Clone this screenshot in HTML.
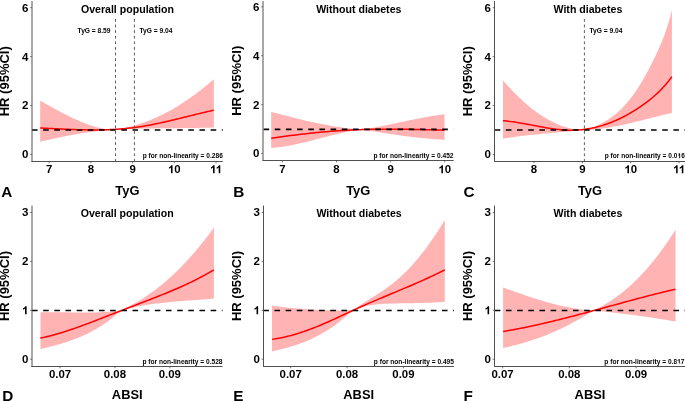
<!DOCTYPE html>
<html><head><meta charset="utf-8"><title>Restricted cubic spline plots</title>
<style>
html,body{margin:0;padding:0;background:#fff;}
body{width:685px;height:401px;overflow:hidden;}
svg{display:block;}
text{font-family:"Liberation Sans",sans-serif;font-weight:bold;fill:#000;}
svg{will-change:transform;}
</style></head>
<body>
<svg width="685" height="401" viewBox="0 0 685 401">
<rect width="685" height="401" fill="#fff"/>
<polygon points="40.20,100.60 42.02,101.64 43.83,102.67 45.65,103.70 47.46,104.73 49.28,105.75 51.09,106.77 52.91,107.78 54.72,108.78 56.54,109.78 58.35,110.76 60.17,111.74 61.98,112.70 63.80,113.65 65.62,114.58 67.43,115.50 69.25,116.40 71.06,117.28 72.88,118.15 74.69,118.99 76.51,119.81 78.32,120.61 80.14,121.39 81.95,122.14 83.77,122.87 85.58,123.57 87.40,124.24 89.22,124.88 91.03,125.49 92.85,126.07 94.66,126.62 96.48,127.13 98.29,127.61 100.11,128.06 101.92,128.46 103.74,128.83 105.55,129.16 107.37,129.45 109.18,129.69 111.00,129.90 113.64,129.62 116.27,129.28 118.91,128.88 121.54,128.43 124.18,127.93 126.82,127.37 129.45,126.76 132.09,126.10 134.72,125.38 137.36,124.60 139.99,123.78 142.63,122.90 145.27,121.97 147.90,120.98 150.54,119.94 153.17,118.85 155.81,117.70 158.45,116.50 161.08,115.25 163.72,113.94 166.35,112.59 168.99,111.18 171.63,109.71 174.26,108.20 176.90,106.63 179.53,105.01 182.17,103.33 184.81,101.61 187.44,99.83 190.08,98.00 192.71,96.12 195.35,94.19 197.98,92.20 200.62,90.16 203.26,88.07 205.89,85.93 208.53,83.74 211.16,81.50 213.80,79.20 213.80,127.50 211.16,127.59 208.53,127.67 205.89,127.74 203.26,127.80 200.62,127.86 197.98,127.91 195.35,127.96 192.71,128.00 190.08,128.03 187.44,128.07 184.81,128.10 182.17,128.12 179.53,128.15 176.90,128.17 174.26,128.19 171.63,128.21 168.99,128.24 166.35,128.26 163.72,128.28 161.08,128.31 158.45,128.34 155.81,128.37 153.17,128.40 150.54,128.44 147.90,128.48 145.27,128.53 142.63,128.59 139.99,128.65 137.36,128.71 134.72,128.79 132.09,128.87 129.45,128.96 126.82,129.07 124.18,129.18 121.54,129.30 118.91,129.43 116.27,129.57 113.64,129.73 111.00,129.89 109.18,130.01 107.37,130.15 105.55,130.30 103.74,130.46 101.92,130.63 100.11,130.82 98.29,131.02 96.48,131.22 94.66,131.44 92.85,131.67 91.03,131.91 89.22,132.16 87.40,132.42 85.58,132.69 83.77,132.97 81.95,133.26 80.14,133.56 78.32,133.86 76.51,134.18 74.69,134.50 72.88,134.83 71.06,135.16 69.25,135.51 67.43,135.85 65.62,136.21 63.80,136.57 61.98,136.94 60.17,137.31 58.35,137.69 56.54,138.07 54.72,138.46 52.91,138.85 51.09,139.25 49.28,139.65 47.46,140.05 45.65,140.46 43.83,140.87 42.02,141.28 40.20,141.69" fill="#FFB3B3"/>
<polyline points="40.20,127.98 41.95,128.06 43.71,128.15 45.46,128.24 47.21,128.33 48.97,128.41 50.72,128.50 52.47,128.59 54.23,128.68 55.98,128.76 57.74,128.85 59.49,128.93 61.24,129.02 63.00,129.10 64.75,129.18 66.50,129.25 68.26,129.33 70.01,129.40 71.76,129.46 73.52,129.53 75.27,129.59 77.02,129.65 78.78,129.70 80.53,129.74 82.28,129.79 84.04,129.83 85.79,129.86 87.55,129.88 89.30,129.90 91.05,129.92 92.81,129.93 94.56,129.93 96.31,129.92 98.07,129.91 99.82,129.89 101.57,129.86 103.33,129.83 105.08,129.78 106.83,129.73 108.59,129.66 110.34,129.59 112.09,129.51 113.85,129.42 115.60,129.32 117.36,129.21 119.11,129.09 120.86,128.96 122.62,128.81 124.37,128.66 126.12,128.49 127.88,128.31 129.63,128.12 131.38,127.92 133.14,127.71 134.89,127.48 136.64,127.24 138.40,126.98 140.15,126.72 141.91,126.44 143.66,126.15 145.41,125.85 147.17,125.54 148.92,125.22 150.67,124.89 152.43,124.55 154.18,124.20 155.93,123.84 157.69,123.48 159.44,123.11 161.19,122.73 162.95,122.34 164.70,121.95 166.45,121.55 168.21,121.15 169.96,120.74 171.72,120.33 173.47,119.91 175.22,119.49 176.98,119.07 178.73,118.64 180.48,118.21 182.24,117.78 183.99,117.35 185.74,116.92 187.50,116.48 189.25,116.05 191.00,115.62 192.76,115.18 194.51,114.75 196.26,114.32 198.02,113.89 199.77,113.47 201.53,113.04 203.28,112.62 205.03,112.21 206.79,111.79 208.54,111.39 210.29,110.98 212.05,110.58 213.80,110.19" fill="none" stroke="#FF0000" stroke-width="1.5" stroke-linejoin="round" stroke-linecap="butt"/>
<line x1="32.00" y1="129.95" x2="222.80" y2="129.95" stroke="#000" stroke-width="1.6" stroke-dasharray="5.6 5.565"/>
<line x1="115.5" y1="19" x2="115.5" y2="161.5" stroke="#484848" stroke-width="0.9" stroke-dasharray="2.8 2.8"/>
<text x="110.50" y="33.20" font-size="6.65" text-anchor="end">TyG = 8.59</text>
<line x1="134.4" y1="19" x2="134.4" y2="161.5" stroke="#484848" stroke-width="0.9" stroke-dasharray="2.8 2.8"/>
<text x="139.50" y="33.20" font-size="6.65" text-anchor="start">TyG = 9.04</text>
<line x1="32.0" y1="1.0" x2="32.0" y2="162.0" stroke="#505050" stroke-width="1"/>
<line x1="31.5" y1="161.5" x2="222.8" y2="161.5" stroke="#505050" stroke-width="1"/>
<line x1="30.2" y1="154.40" x2="32.0" y2="154.40" stroke="#505050" stroke-width="0.8"/>
<text x="28.40" y="158.35" font-size="11.5" text-anchor="end">0</text>
<line x1="30.2" y1="105.50" x2="32.0" y2="105.50" stroke="#505050" stroke-width="0.8"/>
<text x="28.40" y="109.45" font-size="11.5" text-anchor="end">2</text>
<line x1="30.2" y1="56.60" x2="32.0" y2="56.60" stroke="#505050" stroke-width="0.8"/>
<text x="28.40" y="60.55" font-size="11.5" text-anchor="end">4</text>
<line x1="30.2" y1="7.70" x2="32.0" y2="7.70" stroke="#505050" stroke-width="0.8"/>
<text x="28.40" y="11.65" font-size="11.5" text-anchor="end">6</text>
<line x1="49.20" y1="161.5" x2="49.20" y2="163.3" stroke="#505050" stroke-width="0.8"/>
<text x="49.20" y="173.20" font-size="11.4" text-anchor="middle">7</text>
<line x1="90.90" y1="161.5" x2="90.90" y2="163.3" stroke="#505050" stroke-width="0.8"/>
<text x="90.90" y="173.20" font-size="11.4" text-anchor="middle">8</text>
<line x1="132.60" y1="161.5" x2="132.60" y2="163.3" stroke="#505050" stroke-width="0.8"/>
<text x="132.60" y="173.20" font-size="11.4" text-anchor="middle">9</text>
<line x1="174.30" y1="161.5" x2="174.30" y2="163.3" stroke="#505050" stroke-width="0.8"/>
<text id="t0" x="174.30" y="173.20" font-size="11.4" text-anchor="middle">10</text>
<line x1="216.00" y1="161.5" x2="216.00" y2="163.3" stroke="#505050" stroke-width="0.8"/>
<text id="t1" x="216.00" y="173.20" font-size="11.4" text-anchor="middle">11</text>
<text x="127.40" y="12.60" font-size="10.6" text-anchor="middle">Overall population</text>
<text x="127.40" y="194.80" font-size="12.9" text-anchor="middle">TyG</text>
<text x="1.20" y="196.60" font-size="15.3" text-anchor="start">A</text>
<text x="0" y="0" font-size="13" text-anchor="middle" transform="translate(9.30,81.25) rotate(-90)">HR (95%CI)</text>
<text x="222.80" y="158.30" font-size="6.6" text-anchor="end">p for non-linearity = 0.286</text>
<polygon points="271.20,111.90 273.53,112.51 275.86,113.12 278.18,113.73 280.51,114.33 282.84,114.93 285.17,115.53 287.50,116.12 289.83,116.71 292.15,117.30 294.48,117.88 296.81,118.45 299.14,119.02 301.47,119.58 303.79,120.13 306.12,120.67 308.45,121.20 310.78,121.73 313.11,122.24 315.44,122.74 317.76,123.23 320.09,123.71 322.42,124.17 324.75,124.62 327.08,125.06 329.41,125.48 331.73,125.89 334.06,126.28 336.39,126.65 338.72,127.01 341.05,127.35 343.37,127.67 345.70,127.97 348.03,128.26 350.36,128.52 352.69,128.76 355.02,128.98 357.34,129.18 359.67,129.35 362.00,129.51 364.12,129.20 366.23,128.87 368.35,128.53 370.46,128.18 372.58,127.81 374.69,127.43 376.81,127.05 378.92,126.65 381.04,126.24 383.15,125.83 385.27,125.41 387.38,124.98 389.50,124.54 391.62,124.11 393.73,123.66 395.85,123.22 397.96,122.77 400.08,122.33 402.19,121.88 404.31,121.43 406.42,120.98 408.54,120.54 410.65,120.10 412.77,119.66 414.88,119.23 417.00,118.81 419.12,118.39 421.23,117.98 423.35,117.58 425.46,117.18 427.58,116.80 429.69,116.43 431.81,116.07 433.92,115.72 436.04,115.38 438.15,115.06 440.27,114.76 442.38,114.47 444.50,114.20 444.50,139.90 442.38,139.76 440.27,139.62 438.15,139.47 436.04,139.30 433.92,139.13 431.81,138.96 429.69,138.77 427.58,138.57 425.46,138.37 423.35,138.16 421.23,137.94 419.12,137.72 417.00,137.49 414.88,137.25 412.77,137.00 410.65,136.75 408.54,136.49 406.42,136.23 404.31,135.95 402.19,135.68 400.08,135.39 397.96,135.11 395.85,134.81 393.73,134.51 391.62,134.21 389.50,133.90 387.38,133.58 385.27,133.26 383.15,132.94 381.04,132.61 378.92,132.28 376.81,131.94 374.69,131.60 372.58,131.26 370.46,130.91 368.35,130.56 366.23,130.20 364.12,129.85 362.00,129.48 359.67,129.76 357.34,130.07 355.02,130.42 352.69,130.80 350.36,131.21 348.03,131.65 345.70,132.12 343.37,132.61 341.05,133.12 338.72,133.66 336.39,134.21 334.06,134.77 331.73,135.35 329.41,135.94 327.08,136.54 324.75,137.15 322.42,137.76 320.09,138.37 317.76,138.98 315.44,139.59 313.11,140.20 310.78,140.79 308.45,141.38 306.12,141.96 303.79,142.53 301.47,143.08 299.14,143.61 296.81,144.12 294.48,144.61 292.15,145.07 289.83,145.51 287.50,145.92 285.17,146.30 282.84,146.65 280.51,146.96 278.18,147.23 275.86,147.46 273.53,147.65 271.20,147.80" fill="#FFB3B3"/>
<polyline points="271.20,138.33 272.95,138.06 274.70,137.80 276.45,137.54 278.20,137.28 279.95,137.03 281.70,136.78 283.45,136.53 285.20,136.29 286.95,136.05 288.71,135.82 290.46,135.59 292.21,135.36 293.96,135.14 295.71,134.92 297.46,134.70 299.21,134.49 300.96,134.28 302.71,134.08 304.46,133.88 306.21,133.68 307.96,133.49 309.71,133.30 311.46,133.12 313.21,132.94 314.96,132.76 316.71,132.59 318.46,132.42 320.21,132.26 321.96,132.10 323.72,131.94 325.47,131.79 327.22,131.64 328.97,131.50 330.72,131.36 332.47,131.22 334.22,131.09 335.97,130.96 337.72,130.84 339.47,130.72 341.22,130.61 342.97,130.50 344.72,130.40 346.47,130.29 348.22,130.20 349.97,130.11 351.72,130.02 353.47,129.94 355.22,129.86 356.97,129.78 358.73,129.71 360.48,129.65 362.23,129.59 363.98,129.53 365.73,129.48 367.48,129.43 369.23,129.39 370.98,129.35 372.73,129.31 374.48,129.28 376.23,129.25 377.98,129.23 379.73,129.21 381.48,129.19 383.23,129.18 384.98,129.17 386.73,129.16 388.48,129.16 390.23,129.16 391.98,129.16 393.74,129.17 395.49,129.17 397.24,129.19 398.99,129.20 400.74,129.22 402.49,129.24 404.24,129.26 405.99,129.28 407.74,129.31 409.49,129.33 411.24,129.36 412.99,129.40 414.74,129.43 416.49,129.47 418.24,129.50 419.99,129.54 421.74,129.58 423.49,129.63 425.24,129.67 426.99,129.71 428.75,129.76 430.50,129.81 432.25,129.86 434.00,129.90 435.75,129.95 437.50,130.01 439.25,130.06 441.00,130.11 442.75,130.16 444.50,130.21" fill="none" stroke="#FF0000" stroke-width="1.5" stroke-linejoin="round" stroke-linecap="butt"/>
<line x1="263.60" y1="129.40" x2="453.50" y2="129.40" stroke="#000" stroke-width="1.6" stroke-dasharray="5.6 5.565"/>
<line x1="263.0" y1="1.0" x2="263.0" y2="161.0" stroke="#505050" stroke-width="1"/>
<line x1="262.5" y1="160.5" x2="453.5" y2="160.5" stroke="#505050" stroke-width="1"/>
<line x1="261.2" y1="153.50" x2="263.0" y2="153.50" stroke="#505050" stroke-width="0.8"/>
<text x="259.40" y="157.45" font-size="11.5" text-anchor="end">0</text>
<line x1="261.2" y1="104.60" x2="263.0" y2="104.60" stroke="#505050" stroke-width="0.8"/>
<text x="259.40" y="108.55" font-size="11.5" text-anchor="end">2</text>
<line x1="261.2" y1="55.70" x2="263.0" y2="55.70" stroke="#505050" stroke-width="0.8"/>
<text x="259.40" y="59.65" font-size="11.5" text-anchor="end">4</text>
<line x1="261.2" y1="6.80" x2="263.0" y2="6.80" stroke="#505050" stroke-width="0.8"/>
<text x="259.40" y="10.75" font-size="11.5" text-anchor="end">6</text>
<line x1="282.40" y1="160.5" x2="282.40" y2="162.3" stroke="#505050" stroke-width="0.8"/>
<text x="282.40" y="173.20" font-size="11.4" text-anchor="middle">7</text>
<line x1="336.50" y1="160.5" x2="336.50" y2="162.3" stroke="#505050" stroke-width="0.8"/>
<text x="336.50" y="173.20" font-size="11.4" text-anchor="middle">8</text>
<line x1="390.60" y1="160.5" x2="390.60" y2="162.3" stroke="#505050" stroke-width="0.8"/>
<text x="390.60" y="173.20" font-size="11.4" text-anchor="middle">9</text>
<line x1="444.70" y1="160.5" x2="444.70" y2="162.3" stroke="#505050" stroke-width="0.8"/>
<text id="t2" x="444.70" y="173.20" font-size="11.4" text-anchor="middle">10</text>
<text x="358.80" y="12.60" font-size="10.6" text-anchor="middle">Without diabetes</text>
<text x="358.25" y="194.80" font-size="12.9" text-anchor="middle">TyG</text>
<text x="233.20" y="196.60" font-size="15.3" text-anchor="start">B</text>
<text x="0" y="0" font-size="13" text-anchor="middle" transform="translate(240.50,80.75) rotate(-90)">HR (95%CI)</text>
<text x="453.50" y="158.30" font-size="6.6" text-anchor="end">p for non-linearity = 0.452</text>
<polygon points="503.00,80.22 505.06,82.63 507.13,84.98 509.19,87.27 511.26,89.50 513.32,91.68 515.38,93.80 517.45,95.86 519.51,97.87 521.58,99.81 523.64,101.70 525.71,103.53 527.77,105.30 529.83,107.01 531.90,108.66 533.96,110.25 536.03,111.78 538.09,113.25 540.15,114.66 542.22,116.01 544.28,117.30 546.35,118.53 548.41,119.70 550.47,120.81 552.54,121.86 554.60,122.85 556.67,123.77 558.73,124.63 560.79,125.43 562.86,126.17 564.92,126.85 566.99,127.46 569.05,128.01 571.12,128.50 573.18,128.93 575.24,129.29 577.31,129.59 579.37,129.82 581.44,130.00 583.50,130.10 585.77,129.48 588.03,128.80 590.30,128.07 592.57,127.27 594.83,126.41 597.10,125.47 599.37,124.45 601.63,123.33 603.90,122.13 606.17,120.82 608.43,119.40 610.70,117.86 612.97,116.20 615.23,114.42 617.50,112.49 619.77,110.43 622.03,108.22 624.30,105.85 626.57,103.32 628.83,100.61 631.10,97.74 633.37,94.68 635.63,91.44 637.90,88.02 640.17,84.42 642.43,80.66 644.70,76.73 646.97,72.65 649.23,68.41 651.50,64.02 653.77,59.48 656.03,54.81 658.30,49.98 660.57,44.87 662.83,39.35 665.10,33.27 667.37,26.50 669.63,18.89 671.90,10.31 671.90,112.91 669.63,113.43 667.37,113.96 665.10,114.49 662.83,115.04 660.57,115.59 658.30,116.15 656.03,116.71 653.77,117.28 651.50,117.85 649.23,118.42 646.97,119.00 644.70,119.57 642.43,120.14 640.17,120.70 637.90,121.26 635.63,121.82 633.37,122.37 631.10,122.91 628.83,123.44 626.57,123.95 624.30,124.46 622.03,124.95 619.77,125.43 617.50,125.90 615.23,126.34 612.97,126.77 610.70,127.18 608.43,127.56 606.17,127.93 603.90,128.27 601.63,128.59 599.37,128.88 597.10,129.15 594.83,129.38 592.57,129.59 590.30,129.77 588.03,129.91 585.77,130.02 583.50,130.10 581.44,130.29 579.37,130.48 577.31,130.66 575.24,130.85 573.18,131.03 571.12,131.21 569.05,131.39 566.99,131.57 564.92,131.75 562.86,131.93 560.79,132.11 558.73,132.29 556.67,132.48 554.60,132.66 552.54,132.84 550.47,133.03 548.41,133.22 546.35,133.41 544.28,133.61 542.22,133.81 540.15,134.01 538.09,134.21 536.03,134.43 533.96,134.64 531.90,134.86 529.83,135.09 527.77,135.32 525.71,135.56 523.64,135.81 521.58,136.06 519.51,136.32 517.45,136.58 515.38,136.86 513.32,137.14 511.26,137.43 509.19,137.74 507.13,138.05 505.06,138.37 503.00,138.70" fill="#FFB3B3"/>
<polyline points="503.00,120.71 504.71,120.86 506.41,121.02 508.12,121.20 509.82,121.40 511.53,121.62 513.24,121.85 514.94,122.10 516.65,122.37 518.35,122.64 520.06,122.93 521.77,123.22 523.47,123.53 525.18,123.84 526.88,124.16 528.59,124.48 530.30,124.80 532.00,125.13 533.71,125.46 535.42,125.78 537.12,126.11 538.83,126.43 540.53,126.74 542.24,127.06 543.95,127.36 545.65,127.65 547.36,127.94 549.06,128.21 550.77,128.48 552.48,128.73 554.18,128.96 555.89,129.18 557.59,129.38 559.30,129.56 561.01,129.72 562.71,129.86 564.42,129.98 566.12,130.08 567.83,130.15 569.54,130.19 571.24,130.20 572.95,130.19 574.65,130.15 576.36,130.08 578.07,129.98 579.77,129.86 581.48,129.70 583.18,129.52 584.89,129.31 586.60,129.07 588.30,128.81 590.01,128.51 591.72,128.18 593.42,127.83 595.13,127.45 596.83,127.03 598.54,126.59 600.25,126.12 601.95,125.62 603.66,125.09 605.36,124.54 607.07,123.95 608.78,123.33 610.48,122.68 612.19,122.01 613.89,121.30 615.60,120.57 617.31,119.81 619.01,119.01 620.72,118.19 622.42,117.35 624.13,116.47 625.84,115.56 627.54,114.63 629.25,113.66 630.95,112.67 632.66,111.65 634.37,110.61 636.07,109.53 637.78,108.43 639.48,107.30 641.19,106.14 642.90,104.95 644.60,103.73 646.31,102.48 648.02,101.18 649.72,99.85 651.43,98.46 653.13,97.03 654.84,95.53 656.55,93.98 658.25,92.37 659.96,90.69 661.66,88.93 663.37,87.11 665.08,85.20 666.78,83.21 668.49,81.13 670.19,78.96 671.90,76.70" fill="none" stroke="#FF0000" stroke-width="1.5" stroke-linejoin="round" stroke-linecap="butt"/>
<line x1="494.70" y1="129.95" x2="685.50" y2="129.95" stroke="#000" stroke-width="1.6" stroke-dasharray="5.6 5.565"/>
<line x1="584.4" y1="19" x2="584.4" y2="161.5" stroke="#484848" stroke-width="0.9" stroke-dasharray="2.8 2.8"/>
<text x="589.50" y="33.20" font-size="6.65" text-anchor="start">TyG = 9.04</text>
<line x1="494.5" y1="1.0" x2="494.5" y2="162.0" stroke="#505050" stroke-width="1"/>
<line x1="494.0" y1="161.5" x2="685.5" y2="161.5" stroke="#505050" stroke-width="1"/>
<line x1="492.7" y1="154.40" x2="494.5" y2="154.40" stroke="#505050" stroke-width="0.8"/>
<text x="490.90" y="158.35" font-size="11.5" text-anchor="end">0</text>
<line x1="492.7" y1="105.50" x2="494.5" y2="105.50" stroke="#505050" stroke-width="0.8"/>
<text x="490.90" y="109.45" font-size="11.5" text-anchor="end">2</text>
<line x1="492.7" y1="56.60" x2="494.5" y2="56.60" stroke="#505050" stroke-width="0.8"/>
<text x="490.90" y="60.55" font-size="11.5" text-anchor="end">4</text>
<line x1="492.7" y1="7.70" x2="494.5" y2="7.70" stroke="#505050" stroke-width="0.8"/>
<text x="490.90" y="11.65" font-size="11.5" text-anchor="end">6</text>
<line x1="534.00" y1="161.5" x2="534.00" y2="163.3" stroke="#505050" stroke-width="0.8"/>
<text x="534.00" y="173.20" font-size="11.4" text-anchor="middle">8</text>
<line x1="582.36" y1="161.5" x2="582.36" y2="163.3" stroke="#505050" stroke-width="0.8"/>
<text x="582.36" y="173.20" font-size="11.4" text-anchor="middle">9</text>
<line x1="630.72" y1="161.5" x2="630.72" y2="163.3" stroke="#505050" stroke-width="0.8"/>
<text id="t3" x="630.72" y="173.20" font-size="11.4" text-anchor="middle">10</text>
<line x1="679.08" y1="161.5" x2="679.08" y2="163.3" stroke="#505050" stroke-width="0.8"/>
<text id="t4" x="679.08" y="173.20" font-size="11.4" text-anchor="middle">11</text>
<text x="587.90" y="12.60" font-size="10.6" text-anchor="middle">With diabetes</text>
<text x="590.00" y="194.80" font-size="12.9" text-anchor="middle">TyG</text>
<text x="463.40" y="196.60" font-size="15.3" text-anchor="start">C</text>
<text x="0" y="0" font-size="13" text-anchor="middle" transform="translate(471.80,81.25) rotate(-90)">HR (95%CI)</text>
<text id="t5" x="684.80" y="158.30" font-size="6.6" text-anchor="end">p for non-linearity = 0.016</text>
<polygon points="40.50,312.40 42.56,312.34 44.63,312.29 46.69,312.26 48.76,312.23 50.82,312.22 52.88,312.22 54.95,312.22 57.01,312.23 59.08,312.25 61.14,312.28 63.21,312.31 65.27,312.34 67.33,312.37 69.40,312.41 71.46,312.44 73.53,312.48 75.59,312.51 77.65,312.54 79.72,312.56 81.78,312.58 83.85,312.59 85.91,312.59 87.97,312.58 90.04,312.56 92.10,312.53 94.17,312.49 96.23,312.44 98.29,312.37 100.36,312.28 102.42,312.18 104.49,312.06 106.55,311.92 108.62,311.76 110.68,311.58 112.74,311.37 114.81,311.14 116.87,310.89 118.94,310.61 121.00,310.31 123.38,309.20 125.76,308.06 128.15,306.87 130.53,305.64 132.91,304.36 135.29,303.02 137.67,301.64 140.06,300.21 142.44,298.72 144.82,297.18 147.20,295.60 149.58,293.95 151.97,292.26 154.35,290.51 156.73,288.70 159.11,286.84 161.49,284.93 163.88,282.95 166.26,280.93 168.64,278.84 171.02,276.69 173.41,274.49 175.79,272.23 178.17,269.90 180.55,267.52 182.93,265.08 185.32,262.57 187.70,260.00 190.08,257.37 192.46,254.68 194.84,251.92 197.23,249.10 199.61,246.21 201.99,243.26 204.37,240.24 206.75,237.16 209.14,234.00 211.52,230.78 213.90,227.49 213.90,298.59 211.52,298.80 209.14,298.99 206.75,299.18 204.37,299.37 201.99,299.55 199.61,299.73 197.23,299.90 194.84,300.08 192.46,300.25 190.08,300.42 187.70,300.60 185.32,300.78 182.93,300.96 180.55,301.14 178.17,301.34 175.79,301.54 173.41,301.74 171.02,301.96 168.64,302.18 166.26,302.42 163.88,302.67 161.49,302.93 159.11,303.20 156.73,303.49 154.35,303.79 151.97,304.11 149.58,304.45 147.20,304.81 144.82,305.19 142.44,305.59 140.06,306.01 137.67,306.45 135.29,306.92 132.91,307.41 130.53,307.93 128.15,308.48 125.76,309.05 123.38,309.65 121.00,310.30 118.94,312.21 116.87,314.04 114.81,315.81 112.74,317.51 110.68,319.14 108.62,320.71 106.55,322.23 104.49,323.68 102.42,325.07 100.36,326.41 98.29,327.70 96.23,328.93 94.17,330.12 92.10,331.25 90.04,332.34 87.97,333.38 85.91,334.39 83.85,335.35 81.78,336.27 79.72,337.15 77.65,337.99 75.59,338.81 73.53,339.59 71.46,340.33 69.40,341.05 67.33,341.75 65.27,342.42 63.21,343.06 61.14,343.68 59.08,344.29 57.01,344.87 54.95,345.44 52.88,345.99 50.82,346.53 48.76,347.06 46.69,347.58 44.63,348.09 42.56,348.60 40.50,349.10" fill="#FFB3B3"/>
<polyline points="40.20,338.12 41.95,337.76 43.71,337.38 45.46,336.99 47.22,336.58 48.97,336.15 50.73,335.70 52.48,335.24 54.24,334.77 55.99,334.28 57.75,333.78 59.50,333.26 61.25,332.73 63.01,332.19 64.76,331.63 66.52,331.07 68.27,330.49 70.03,329.91 71.78,329.31 73.54,328.71 75.29,328.09 77.05,327.47 78.80,326.84 80.55,326.21 82.31,325.57 84.06,324.92 85.82,324.27 87.57,323.61 89.33,322.95 91.08,322.28 92.84,321.61 94.59,320.94 96.35,320.27 98.10,319.60 99.85,318.92 101.61,318.25 103.36,317.57 105.12,316.89 106.87,316.21 108.63,315.53 110.38,314.85 112.14,314.17 113.89,313.49 115.65,312.81 117.40,312.13 119.15,311.45 120.91,310.77 122.66,310.09 124.42,309.41 126.17,308.73 127.93,308.05 129.68,307.37 131.44,306.69 133.19,306.02 134.95,305.34 136.70,304.66 138.45,303.98 140.21,303.31 141.96,302.63 143.72,301.96 145.47,301.28 147.23,300.60 148.98,299.93 150.74,299.25 152.49,298.56 154.25,297.88 156.00,297.19 157.75,296.50 159.51,295.81 161.26,295.11 163.02,294.40 164.77,293.69 166.53,292.98 168.28,292.25 170.04,291.52 171.79,290.79 173.55,290.04 175.30,289.29 177.05,288.53 178.81,287.76 180.56,286.99 182.32,286.20 184.07,285.40 185.83,284.59 187.58,283.77 189.34,282.94 191.09,282.09 192.85,281.24 194.60,280.37 196.35,279.48 198.11,278.59 199.86,277.67 201.62,276.75 203.37,275.81 205.13,274.85 206.88,273.88 208.64,272.89 210.39,271.88 212.15,270.86 213.90,269.81" fill="none" stroke="#FF0000" stroke-width="1.5" stroke-linejoin="round" stroke-linecap="butt"/>
<line x1="32.00" y1="310.50" x2="222.50" y2="310.50" stroke="#000" stroke-width="1.6" stroke-dasharray="5.6 5.565"/>
<line x1="32.0" y1="205.6" x2="32.0" y2="367.0" stroke="#505050" stroke-width="1"/>
<line x1="31.5" y1="366.5" x2="222.5" y2="366.5" stroke="#505050" stroke-width="1"/>
<line x1="30.2" y1="359.20" x2="32.0" y2="359.20" stroke="#505050" stroke-width="0.8"/>
<text x="28.40" y="363.15" font-size="11.5" text-anchor="end">0</text>
<line x1="30.2" y1="310.30" x2="32.0" y2="310.30" stroke="#505050" stroke-width="0.8"/>
<text id="t6" x="28.40" y="314.25" font-size="11.5" text-anchor="end">1</text>
<line x1="30.2" y1="261.40" x2="32.0" y2="261.40" stroke="#505050" stroke-width="0.8"/>
<text x="28.40" y="265.35" font-size="11.5" text-anchor="end">2</text>
<line x1="30.2" y1="212.50" x2="32.0" y2="212.50" stroke="#505050" stroke-width="0.8"/>
<text x="28.40" y="216.45" font-size="11.5" text-anchor="end">3</text>
<line x1="60.00" y1="366.5" x2="60.00" y2="368.3" stroke="#505050" stroke-width="0.8"/>
<text x="60.00" y="378.00" font-size="11.4" text-anchor="middle">0.07</text>
<line x1="114.90" y1="366.5" x2="114.90" y2="368.3" stroke="#505050" stroke-width="0.8"/>
<text x="114.90" y="378.00" font-size="11.4" text-anchor="middle">0.08</text>
<line x1="169.80" y1="366.5" x2="169.80" y2="368.3" stroke="#505050" stroke-width="0.8"/>
<text x="169.80" y="378.00" font-size="11.4" text-anchor="middle">0.09</text>
<text x="127.25" y="216.80" font-size="10.6" text-anchor="middle">Overall population</text>
<text x="127.25" y="399.20" font-size="12.9" text-anchor="middle">ABSI</text>
<text x="2.20" y="400.60" font-size="15.3" text-anchor="start">D</text>
<text x="0" y="0" font-size="13" text-anchor="middle" transform="translate(9.30,286.05) rotate(-90)">HR (95%CI)</text>
<text x="222.50" y="363.50" font-size="6.6" text-anchor="end">p for non-linearity = 0.528</text>
<polygon points="272.00,305.80 274.06,306.05 276.13,306.30 278.19,306.54 280.26,306.77 282.32,307.00 284.38,307.23 286.45,307.44 288.51,307.65 290.58,307.86 292.64,308.05 294.71,308.24 296.77,308.42 298.83,308.60 300.90,308.77 302.96,308.93 305.03,309.08 307.09,309.23 309.15,309.36 311.22,309.49 313.28,309.61 315.35,309.73 317.41,309.83 319.47,309.93 321.54,310.02 323.60,310.09 325.67,310.16 327.73,310.22 329.79,310.28 331.86,310.32 333.92,310.35 335.99,310.37 338.05,310.39 340.12,310.39 342.18,310.38 344.24,310.37 346.31,310.34 348.37,310.30 350.44,310.26 352.50,310.20 354.87,308.57 357.23,307.02 359.60,305.49 361.97,303.99 364.33,302.51 366.70,301.04 369.07,299.57 371.43,298.10 373.80,296.62 376.17,295.12 378.53,293.59 380.90,292.03 383.27,290.43 385.63,288.79 388.00,287.09 390.37,285.33 392.73,283.50 395.10,281.60 397.47,279.61 399.83,277.54 402.20,275.37 404.57,273.10 406.93,270.74 409.30,268.28 411.67,265.72 414.03,263.07 416.40,260.32 418.77,257.48 421.13,254.54 423.50,251.51 425.87,248.38 428.23,245.16 430.60,241.84 432.97,238.43 435.33,234.93 437.70,231.33 440.07,227.64 442.43,223.85 444.80,219.97 444.80,301.79 442.43,301.98 440.07,302.15 437.70,302.30 435.33,302.44 432.97,302.56 430.60,302.67 428.23,302.76 425.87,302.85 423.50,302.92 421.13,302.99 418.77,303.04 416.40,303.09 414.03,303.14 411.67,303.18 409.30,303.22 406.93,303.25 404.57,303.29 402.20,303.32 399.83,303.36 397.47,303.40 395.10,303.44 392.73,303.49 390.37,303.55 388.00,303.63 385.63,303.72 383.27,303.85 380.90,304.00 378.53,304.19 376.17,304.42 373.80,304.70 371.43,305.03 369.07,305.41 366.70,305.86 364.33,306.38 361.97,306.97 359.60,307.64 357.23,308.39 354.87,309.23 352.50,310.19 350.44,312.20 348.37,314.13 346.31,316.00 344.24,317.80 342.18,319.54 340.12,321.22 338.05,322.84 335.99,324.40 333.92,325.90 331.86,327.34 329.79,328.73 327.73,330.07 325.67,331.35 323.60,332.59 321.54,333.77 319.47,334.91 317.41,336.01 315.35,337.06 313.28,338.06 311.22,339.03 309.15,339.95 307.09,340.84 305.03,341.69 302.96,342.51 300.90,343.29 298.83,344.04 296.77,344.75 294.71,345.44 292.64,346.10 290.58,346.74 288.51,347.35 286.45,347.93 284.38,348.49 282.32,349.04 280.26,349.56 278.19,350.07 276.13,350.56 274.06,351.03 272.00,351.50" fill="#FFB3B3"/>
<polyline points="272.00,339.38 273.75,339.13 275.49,338.86 277.24,338.56 278.98,338.24 280.73,337.90 282.47,337.54 284.22,337.16 285.96,336.75 287.71,336.33 289.45,335.88 291.20,335.42 292.95,334.93 294.69,334.43 296.44,333.91 298.18,333.37 299.93,332.81 301.67,332.24 303.42,331.65 305.16,331.05 306.91,330.43 308.65,329.79 310.40,329.14 312.15,328.48 313.89,327.81 315.64,327.12 317.38,326.42 319.13,325.70 320.87,324.98 322.62,324.24 324.36,323.50 326.11,322.74 327.85,321.98 329.60,321.20 331.35,320.42 333.09,319.63 334.84,318.83 336.58,318.03 338.33,317.22 340.07,316.41 341.82,315.60 343.56,314.79 345.31,313.97 347.05,313.16 348.80,312.34 350.55,311.53 352.29,310.72 354.04,309.91 355.78,309.11 357.53,308.32 359.27,307.53 361.02,306.74 362.76,305.96 364.51,305.19 366.25,304.42 368.00,303.66 369.75,302.90 371.49,302.15 373.24,301.40 374.98,300.65 376.73,299.91 378.47,299.17 380.22,298.43 381.96,297.69 383.71,296.96 385.45,296.22 387.20,295.49 388.95,294.76 390.69,294.03 392.44,293.30 394.18,292.57 395.93,291.84 397.67,291.11 399.42,290.38 401.16,289.65 402.91,288.91 404.65,288.17 406.40,287.43 408.15,286.69 409.89,285.95 411.64,285.20 413.38,284.45 415.13,283.69 416.87,282.93 418.62,282.17 420.36,281.40 422.11,280.62 423.85,279.84 425.60,279.05 427.35,278.26 429.09,277.46 430.84,276.65 432.58,275.84 434.33,275.02 436.07,274.19 437.82,273.35 439.56,272.51 441.31,271.65 443.05,270.79 444.80,269.91" fill="none" stroke="#FF0000" stroke-width="1.5" stroke-linejoin="round" stroke-linecap="butt"/>
<line x1="263.30" y1="310.50" x2="453.90" y2="310.50" stroke="#000" stroke-width="1.6" stroke-dasharray="5.6 5.565"/>
<line x1="263.5" y1="205.6" x2="263.5" y2="367.0" stroke="#505050" stroke-width="1"/>
<line x1="263.0" y1="366.5" x2="453.9" y2="366.5" stroke="#505050" stroke-width="1"/>
<line x1="261.7" y1="359.20" x2="263.5" y2="359.20" stroke="#505050" stroke-width="0.8"/>
<text x="259.90" y="363.15" font-size="11.5" text-anchor="end">0</text>
<line x1="261.7" y1="310.30" x2="263.5" y2="310.30" stroke="#505050" stroke-width="0.8"/>
<text id="t7" x="259.90" y="314.25" font-size="11.5" text-anchor="end">1</text>
<line x1="261.7" y1="261.40" x2="263.5" y2="261.40" stroke="#505050" stroke-width="0.8"/>
<text x="259.90" y="265.35" font-size="11.5" text-anchor="end">2</text>
<line x1="261.7" y1="212.50" x2="263.5" y2="212.50" stroke="#505050" stroke-width="0.8"/>
<text x="259.90" y="216.45" font-size="11.5" text-anchor="end">3</text>
<line x1="290.70" y1="366.5" x2="290.70" y2="368.3" stroke="#505050" stroke-width="0.8"/>
<text x="290.70" y="378.00" font-size="11.4" text-anchor="middle">0.07</text>
<line x1="347.05" y1="366.5" x2="347.05" y2="368.3" stroke="#505050" stroke-width="0.8"/>
<text x="347.05" y="378.00" font-size="11.4" text-anchor="middle">0.08</text>
<line x1="403.40" y1="366.5" x2="403.40" y2="368.3" stroke="#505050" stroke-width="0.8"/>
<text x="403.40" y="378.00" font-size="11.4" text-anchor="middle">0.09</text>
<text x="359.10" y="216.80" font-size="10.6" text-anchor="middle">Without diabetes</text>
<text x="358.70" y="399.20" font-size="12.9" text-anchor="middle">ABSI</text>
<text x="233.20" y="400.60" font-size="15.3" text-anchor="start">E</text>
<text x="0" y="0" font-size="13" text-anchor="middle" transform="translate(240.50,286.05) rotate(-90)">HR (95%CI)</text>
<text x="453.90" y="363.50" font-size="6.6" text-anchor="end">p for non-linearity = 0.495</text>
<polygon points="503.10,287.50 505.42,288.34 507.73,289.17 510.05,290.01 512.36,290.83 514.68,291.65 516.99,292.47 519.31,293.28 521.62,294.08 523.94,294.87 526.25,295.66 528.57,296.43 530.88,297.19 533.20,297.94 535.52,298.68 537.83,299.40 540.15,300.11 542.46,300.80 544.78,301.48 547.09,302.14 549.41,302.78 551.72,303.40 554.04,304.01 556.35,304.59 558.67,305.16 560.98,305.70 563.30,306.21 565.62,306.71 567.93,307.18 570.25,307.62 572.56,308.04 574.88,308.43 577.19,308.80 579.51,309.13 581.82,309.44 584.14,309.72 586.45,309.96 588.77,310.17 591.08,310.35 593.40,310.50 595.51,309.52 597.61,308.48 599.72,307.39 601.82,306.25 603.93,305.06 606.03,303.82 608.14,302.53 610.24,301.18 612.35,299.79 614.45,298.34 616.56,296.84 618.66,295.28 620.77,293.66 622.87,291.99 624.98,290.27 627.08,288.48 629.19,286.64 631.29,284.73 633.40,282.77 635.50,280.75 637.61,278.66 639.71,276.51 641.82,274.30 643.92,272.03 646.03,269.69 648.13,267.29 650.24,264.82 652.34,262.28 654.45,259.68 656.55,257.01 658.66,254.27 660.76,251.46 662.87,248.58 664.97,245.63 667.08,242.61 669.18,239.52 671.29,236.35 673.39,233.11 675.50,229.79 675.50,321.50 673.39,321.14 671.29,320.78 669.18,320.43 667.08,320.08 664.97,319.73 662.87,319.39 660.76,319.05 658.66,318.72 656.55,318.39 654.45,318.06 652.34,317.74 650.24,317.42 648.13,317.11 646.03,316.80 643.92,316.49 641.82,316.19 639.71,315.90 637.61,315.61 635.50,315.32 633.40,315.03 631.29,314.75 629.19,314.48 627.08,314.21 624.98,313.94 622.87,313.68 620.77,313.43 618.66,313.17 616.56,312.92 614.45,312.68 612.35,312.44 610.24,312.21 608.14,311.98 606.03,311.75 603.93,311.53 601.82,311.32 599.72,311.10 597.61,310.90 595.51,310.70 593.40,310.50 591.08,311.99 588.77,313.46 586.45,314.89 584.14,316.29 581.82,317.66 579.51,319.01 577.19,320.32 574.88,321.60 572.56,322.85 570.25,324.07 567.93,325.27 565.62,326.43 563.30,327.57 560.98,328.67 558.67,329.75 556.35,330.81 554.04,331.83 551.72,332.83 549.41,333.80 547.09,334.74 544.78,335.65 542.46,336.54 540.15,337.41 537.83,338.25 535.52,339.06 533.20,339.85 530.88,340.61 528.57,341.34 526.25,342.06 523.94,342.75 521.62,343.41 519.31,344.05 516.99,344.67 514.68,345.26 512.36,345.84 510.05,346.38 507.73,346.91 505.42,347.41 503.10,347.90" fill="#FFB3B3"/>
<polyline points="503.10,331.50 504.84,331.21 506.58,330.91 508.32,330.61 510.07,330.30 511.81,329.99 513.55,329.67 515.29,329.34 517.03,329.01 518.77,328.68 520.51,328.34 522.26,327.99 524.00,327.64 525.74,327.28 527.48,326.92 529.22,326.56 530.96,326.18 532.70,325.81 534.45,325.43 536.19,325.05 537.93,324.66 539.67,324.26 541.41,323.87 543.15,323.47 544.89,323.06 546.64,322.65 548.38,322.24 550.12,321.83 551.86,321.41 553.60,320.98 555.34,320.56 557.08,320.13 558.83,319.70 560.57,319.26 562.31,318.83 564.05,318.39 565.79,317.94 567.53,317.50 569.27,317.05 571.02,316.60 572.76,316.15 574.50,315.69 576.24,315.24 577.98,314.78 579.72,314.32 581.46,313.85 583.21,313.39 584.95,312.93 586.69,312.46 588.43,311.99 590.17,311.52 591.91,311.05 593.65,310.58 595.39,310.11 597.14,309.63 598.88,309.16 600.62,308.69 602.36,308.21 604.10,307.74 605.84,307.26 607.58,306.79 609.33,306.31 611.07,305.84 612.81,305.36 614.55,304.89 616.29,304.41 618.03,303.94 619.77,303.46 621.52,302.99 623.26,302.52 625.00,302.05 626.74,301.57 628.48,301.10 630.22,300.64 631.96,300.17 633.71,299.70 635.45,299.24 637.19,298.78 638.93,298.32 640.67,297.86 642.41,297.40 644.15,296.94 645.90,296.49 647.64,296.04 649.38,295.59 651.12,295.14 652.86,294.70 654.60,294.26 656.34,293.82 658.09,293.38 659.83,292.95 661.57,292.52 663.31,292.09 665.05,291.67 666.79,291.25 668.53,290.83 670.28,290.42 672.02,290.01 673.76,289.61 675.50,289.20" fill="none" stroke="#FF0000" stroke-width="1.5" stroke-linejoin="round" stroke-linecap="butt"/>
<line x1="494.80" y1="310.50" x2="685.50" y2="310.50" stroke="#000" stroke-width="1.6" stroke-dasharray="5.6 5.565"/>
<line x1="494.5" y1="205.6" x2="494.5" y2="367.0" stroke="#505050" stroke-width="1"/>
<line x1="494.0" y1="366.5" x2="685.5" y2="366.5" stroke="#505050" stroke-width="1"/>
<line x1="492.7" y1="359.20" x2="494.5" y2="359.20" stroke="#505050" stroke-width="0.8"/>
<text x="490.90" y="363.15" font-size="11.5" text-anchor="end">0</text>
<line x1="492.7" y1="310.30" x2="494.5" y2="310.30" stroke="#505050" stroke-width="0.8"/>
<text id="t8" x="490.90" y="314.25" font-size="11.5" text-anchor="end">1</text>
<line x1="492.7" y1="261.40" x2="494.5" y2="261.40" stroke="#505050" stroke-width="0.8"/>
<text x="490.90" y="265.35" font-size="11.5" text-anchor="end">2</text>
<line x1="492.7" y1="212.50" x2="494.5" y2="212.50" stroke="#505050" stroke-width="0.8"/>
<text x="490.90" y="216.45" font-size="11.5" text-anchor="end">3</text>
<line x1="502.60" y1="366.5" x2="502.60" y2="368.3" stroke="#505050" stroke-width="0.8"/>
<text x="502.60" y="378.00" font-size="11.4" text-anchor="middle">0.07</text>
<line x1="569.35" y1="366.5" x2="569.35" y2="368.3" stroke="#505050" stroke-width="0.8"/>
<text x="569.35" y="378.00" font-size="11.4" text-anchor="middle">0.08</text>
<line x1="636.10" y1="366.5" x2="636.10" y2="368.3" stroke="#505050" stroke-width="0.8"/>
<text x="636.10" y="378.00" font-size="11.4" text-anchor="middle">0.09</text>
<text x="587.90" y="216.80" font-size="10.6" text-anchor="middle">With diabetes</text>
<text x="590.00" y="399.20" font-size="12.9" text-anchor="middle">ABSI</text>
<text x="463.40" y="400.60" font-size="15.3" text-anchor="start">F</text>
<text x="0" y="0" font-size="13" text-anchor="middle" transform="translate(471.80,286.05) rotate(-90)">HR (95%CI)</text>
<text id="t9" x="684.40" y="363.50" font-size="6.6" text-anchor="end">p for non-linearity = 0.817</text>
<rect x="167.66" y="164.96" width="6.42" height="8.84" fill="#fff"/>
<rect x="209.68" y="164.96" width="7.03" height="8.84" fill="#fff"/>
<rect x="215.38" y="164.96" width="7.03" height="8.84" fill="#fff"/>
<rect x="438.06" y="164.96" width="6.42" height="8.84" fill="#fff"/>
<rect x="624.08" y="164.96" width="6.42" height="8.84" fill="#fff"/>
<rect x="672.76" y="164.96" width="7.03" height="8.84" fill="#fff"/>
<rect x="678.46" y="164.96" width="7.03" height="8.84" fill="#fff"/>
<rect x="677.16" y="153.53" width="3.84" height="5.37" fill="#fff"/>
<rect x="21.69" y="305.94" width="7.09" height="8.91" fill="#fff"/>
<rect x="253.19" y="305.94" width="7.09" height="8.91" fill="#fff"/>
<rect x="484.19" y="305.94" width="7.09" height="8.91" fill="#fff"/>
<rect x="676.76" y="358.73" width="3.84" height="5.37" fill="#fff"/>
<path d="M825 0H544V1010C440 920 320 857 181 815V1060C260 1085 345 1127 430 1195C515 1262 570 1335 597 1409H825Z" transform="translate(167.96,173.20) scale(0.00557,-0.00557)" fill="#000"/>
<path d="M825 0H544V1010C440 920 320 857 181 815V1060C260 1085 345 1127 430 1195C515 1262 570 1335 597 1409H825Z" transform="translate(209.98,173.20) scale(0.00557,-0.00557)" fill="#000"/>
<path d="M825 0H544V1010C440 920 320 857 181 815V1060C260 1085 345 1127 430 1195C515 1262 570 1335 597 1409H825Z" transform="translate(215.68,173.20) scale(0.00557,-0.00557)" fill="#000"/>
<path d="M825 0H544V1010C440 920 320 857 181 815V1060C260 1085 345 1127 430 1195C515 1262 570 1335 597 1409H825Z" transform="translate(438.36,173.20) scale(0.00557,-0.00557)" fill="#000"/>
<path d="M825 0H544V1010C440 920 320 857 181 815V1060C260 1085 345 1127 430 1195C515 1262 570 1335 597 1409H825Z" transform="translate(624.38,173.20) scale(0.00557,-0.00557)" fill="#000"/>
<path d="M825 0H544V1010C440 920 320 857 181 815V1060C260 1085 345 1127 430 1195C515 1262 570 1335 597 1409H825Z" transform="translate(673.06,173.20) scale(0.00557,-0.00557)" fill="#000"/>
<path d="M825 0H544V1010C440 920 320 857 181 815V1060C260 1085 345 1127 430 1195C515 1262 570 1335 597 1409H825Z" transform="translate(678.76,173.20) scale(0.00557,-0.00557)" fill="#000"/>
<path d="M825 0H544V1010C440 920 320 857 181 815V1060C260 1085 345 1127 430 1195C515 1262 570 1335 597 1409H825Z" transform="translate(677.46,158.30) scale(0.00322,-0.00322)" fill="#000"/>
<path d="M825 0H544V1010C440 920 320 857 181 815V1060C260 1085 345 1127 430 1195C515 1262 570 1335 597 1409H825Z" transform="translate(21.99,314.25) scale(0.00562,-0.00562)" fill="#000"/>
<path d="M825 0H544V1010C440 920 320 857 181 815V1060C260 1085 345 1127 430 1195C515 1262 570 1335 597 1409H825Z" transform="translate(253.49,314.25) scale(0.00562,-0.00562)" fill="#000"/>
<path d="M825 0H544V1010C440 920 320 857 181 815V1060C260 1085 345 1127 430 1195C515 1262 570 1335 597 1409H825Z" transform="translate(484.49,314.25) scale(0.00562,-0.00562)" fill="#000"/>
<path d="M825 0H544V1010C440 920 320 857 181 815V1060C260 1085 345 1127 430 1195C515 1262 570 1335 597 1409H825Z" transform="translate(677.06,363.50) scale(0.00322,-0.00322)" fill="#000"/>
</svg>
</body></html>
